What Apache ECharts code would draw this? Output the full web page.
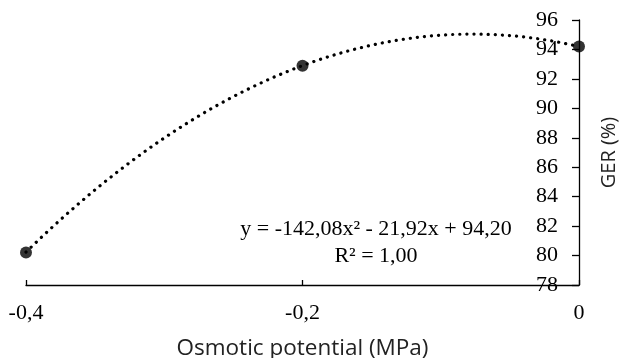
<!DOCTYPE html>
<html>
<head>
<meta charset="utf-8">
<style>
  html, body { margin: 0; padding: 0; background: #fff; }
  #chart { width: 620px; height: 358px; }
</style>
<script src="https://cdn.jsdelivr.net/npm/echarts@6/dist/echarts.min.js"></script>
</head>
<body>
<div id="chart"></div>
<script>
// Osmotic potential (MPa) and germination rate (%)
const potentials = [-0.4, -0.2, 0];
const germination = [80.2, 92.9, 94.2];
// Quadratic fit coefficients: a*x^2 + b*x + c
const fitCoef = [-142.08, -21.92, 94.20];
const xTicks = [-0.4, -0.2, 0];
const yTicks = [78, 80, 82, 84, 86, 88, 90, 92, 94, 96];

const fitLine = [];
for (let i = 0; i <= 80; i++) {
  const x = -0.4 + i * 0.005;
  fitLine.push([x, fitCoef[0] * x * x + fitCoef[1] * x + fitCoef[2]]);
}

const fmt = v => String(+v.toFixed(2)).replace('.', ',');
const serif = '"Liberation Serif", "Times New Roman", serif';
const sans = '"Open Sans", "Noto Sans", sans-serif';

const chart = echarts.init(document.getElementById('chart'), null, { renderer: 'canvas' });
chart.setOption({
  animation: false,
  grid: { left: 26, right: 41, top: 20, bottom: 73, containLabel: false, outerBoundsMode: 'none' },
  xAxis: {
    type: 'value',
    min: xTicks[0], max: xTicks[xTicks.length - 1], interval: 0.2,
    name: 'Osmotic potential (MPa)',
    nameLocation: 'middle', nameGap: 52,
    nameTextStyle: { fontFamily: sans, fontSize: 22.5, color: '#222' },
    axisLine: { lineStyle: { color: '#000', width: 1.3 } },
    axisTick: { inside: true, length: 5, lineStyle: { color: '#000', width: 1.3 } },
    axisLabel: { formatter: fmt, fontFamily: serif, fontSize: 22, color: '#000', margin: 17 },
    splitLine: { show: false }
  },
  yAxis: {
    type: 'value', position: 'right',
    min: yTicks[0], max: yTicks[yTicks.length - 1], interval: 2,
    name: 'GER (%)',
    nameLocation: 'middle', nameGap: 20, nameRotate: 90,
    nameTextStyle: { fontFamily: sans, fontSize: 20, color: '#222' },
    axisLine: { show: true, lineStyle: { color: '#000', width: 1.3 } },
    axisTick: { show: true, inside: true, length: 7, lineStyle: { color: '#000', width: 1.3 } },
    axisLabel: { inside: true, formatter: fmt, fontFamily: serif, fontSize: 22, color: '#000', margin: 21 },
    splitLine: { show: false }
  },
  series: [
    {
      type: 'line',
      data: fitLine,
      showSymbol: false,
      lineStyle: { color: '#000', width: 3.2, type: [0.1, 7], cap: 'round' },
      z: 2
    },
    {
      type: 'scatter',
      data: potentials.map((x, i) => [x, germination[i]]),
      symbol: 'circle', symbolSize: 12,
      itemStyle: { color: '#000' },
      z: 3
    }
  ],
  graphic: [
    {
      type: 'text', x: 376, y: 216,
      style: {
        text: 'y = -142,08x\u00B2 - 21,92x + 94,20\nR\u00B2 = 1,00',
        font: '22px ' + serif, fill: '#000', align: 'center', lineHeight: 27
      }
    }
  ]
});
</script>
</body>
</html>
